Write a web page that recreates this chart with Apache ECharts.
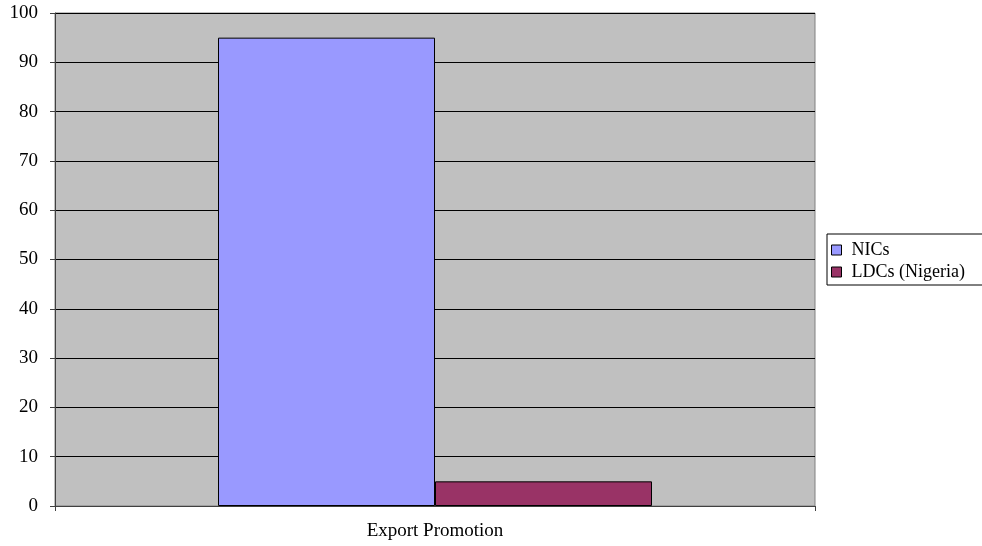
<!DOCTYPE html>
<html><head><meta charset="utf-8">
<script src="https://cdn.jsdelivr.net/npm/echarts@6/dist/echarts.min.js"></script>
<style>html,body{margin:0;padding:0;background:#fff}#c{width:982px;height:546px}</style>
</head><body><div id="c"></div>
<script>
var categories = ["Export Promotion"];
var seriesNames = ["NICs", "LDCs (Nigeria)"];
var nicsValues = [95];
var ldcsValues = [5];
var chart = echarts.init(document.getElementById('c'));
var font = "Liberation Serif";
chart.setOption({
  animation: false,
  grid: {left: 55, right: 167, top: 13, bottom: 40, show: true, backgroundColor: '#C0C0C0', borderColor: '#808080', borderWidth: 1},
  legend: {
    orient: 'vertical', left: 827, top: 234, data: seriesNames,
    itemWidth: 10, itemHeight: 10, itemGap: 4, padding: [7, 18, 4, 4],
    borderColor: '#000', borderWidth: 1, backgroundColor: '#fff',
    icon: 'rect', itemStyle: {borderColor: '#000', borderWidth: 1},
    textStyle: {fontFamily: font, fontSize: 18, color: '#000', padding: [0, 0, 0, 5]}
  },
  xAxis: {
    type: 'category', data: categories,
    axisLine: {lineStyle: {color: '#404040', width: 1}},
    axisTick: {show: true, length: 5, lineStyle: {color: '#404040'}},
    axisLabel: {fontFamily: font, fontSize: 19, color: '#000', margin: 16}
  },
  yAxis: {
    type: 'value', min: 0, max: 100, interval: 10,
    axisLine: {show: true, lineStyle: {color: '#404040', width: 1}},
    axisTick: {show: true, length: 5, lineStyle: {color: '#404040'}},
    axisLabel: {fontFamily: font, fontSize: 19, color: '#000', margin: 17},
    splitLine: {lineStyle: {color: '#000', width: 1}}
  },
  series: [
    {name: seriesNames[0], type: 'bar', data: nicsValues, barWidth: 217, barGap: '0%',
     itemStyle: {color: '#9999FF', borderColor: '#000', borderWidth: 1}},
    {name: seriesNames[1], type: 'bar', data: ldcsValues, barWidth: 217, barGap: '0%',
     itemStyle: {color: '#993366', borderColor: '#000', borderWidth: 1}}
  ]
});
</script></body></html>
